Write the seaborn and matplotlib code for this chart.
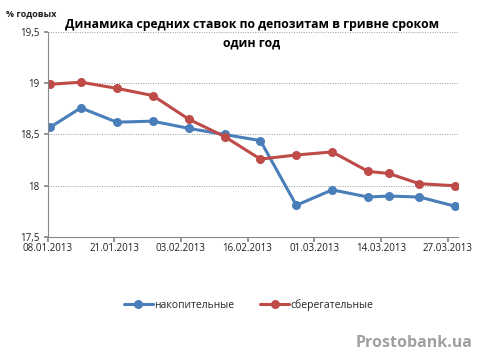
import pandas as pd
import numpy as np
import matplotlib
matplotlib.use('Agg')
import matplotlib.pyplot as plt
import matplotlib.dates as mdates
import seaborn as sns

# data
dates = ['2013-01-08', '2013-01-14', '2013-01-21', '2013-01-28', '2013-02-04',
         '2013-02-11', '2013-02-18', '2013-02-25', '2013-03-04', '2013-03-11',
         '2013-03-15', '2013-03-21', '2013-03-28']
nakopitelnye = [18.57, 18.76, 18.62, 18.63, 18.56, 18.50, 18.44, 17.81, 17.96, 17.89, 17.90, 17.89, 17.80]
sberegatelnye = [18.99, 19.01, 18.95, 18.88, 18.65, 18.48, 18.26, 18.30, 18.33, 18.14, 18.12, 18.02, 18.00]
series_names = ['накопительные', 'сберегательные']
tick_dates = ['2013-01-08', '2013-01-21', '2013-02-03', '2013-02-16',
              '2013-03-01', '2013-03-14', '2013-03-27']
y_ticks = [17.5, 18, 18.5, 19, 19.5]

sns.set_theme(style='white')
plt.rcParams['font.family'] = ['Open Sans', 'DejaVu Sans']

d = pd.to_datetime(dates) + pd.Timedelta(hours=12)  # excel puts points mid-day
df = pd.DataFrame({'date': list(d) * 2,
                   'value': nakopitelnye + sberegatelnye,
                   'series': [series_names[0]] * len(d) + [series_names[1]] * len(d)})

fig = plt.figure(figsize=(4.8, 3.63), dpi=100)
ax = fig.add_axes([0.099, 0.347, 0.855, 0.565])

palette = {series_names[0]: '#4A7EBB', series_names[1]: '#BE4B48'}
sns.lineplot(data=df, x='date', y='value', hue='series', palette=palette, ax=ax,
             marker='o', markersize=6.5, linewidth=2.2, markeredgewidth=0)

ax.set_xlim(pd.Timestamp('2013-01-08'), pd.Timestamp('2013-03-29'))
ax.set_ylim(17.5, 19.5)
ax.set_yticks(y_ticks)
ax.set_yticklabels([('%g' % v).replace('.', ',') for v in y_ticks])
ax.set_xticks(pd.to_datetime(tick_dates))
ax.xaxis.set_major_formatter(mdates.DateFormatter('%d.%m.%Y'))
ax.tick_params(axis='both', labelsize=7, colors='#202020', length=0, pad=3)
ax.tick_params(axis='x', length=3.5, color='#888888', direction='out', bottom=True, pad=1)
ax.tick_params(axis='y', length=3, color='#888888', direction='out', left=True)

for y in y_ticks[1:]:
    ax.axhline(y, color='#999999', linestyle=(0, (1, 1.5)), linewidth=0.7, zorder=0)

for s in ['top', 'right']:
    ax.spines[s].set_visible(False)
for s in ['left', 'bottom']:
    ax.spines[s].set_color('#888888')
    ax.spines[s].set_linewidth(0.8)

ax.set_xlabel('')
ax.set_ylabel('')

fig.text(0.525, 0.908, 'Динамика средних ставок по депозитам в гривне сроком\nодин год',
         fontsize=8.8, fontweight='bold', color='black', linespacing=1.55,
         ha='center', va='center')
fig.text(0.012, 0.955, '% годовых', fontsize=6.5, fontweight='bold', color='#202020')

leg = ax.legend(loc='upper center', bbox_to_anchor=(0.49, -0.255), ncol=2, frameon=False,
                fontsize=7.5, handlelength=2.8, columnspacing=2.5, handletextpad=0.1)
for h in leg.legend_handles:
    h.set_linewidth(2.2)

fig.text(0.985, 0.045, 'Prostobank.ua', fontsize=11.5, fontweight='bold', color='#A0A0A0',
         ha='right')

fig.savefig('out.png', dpi=100, facecolor='white')
